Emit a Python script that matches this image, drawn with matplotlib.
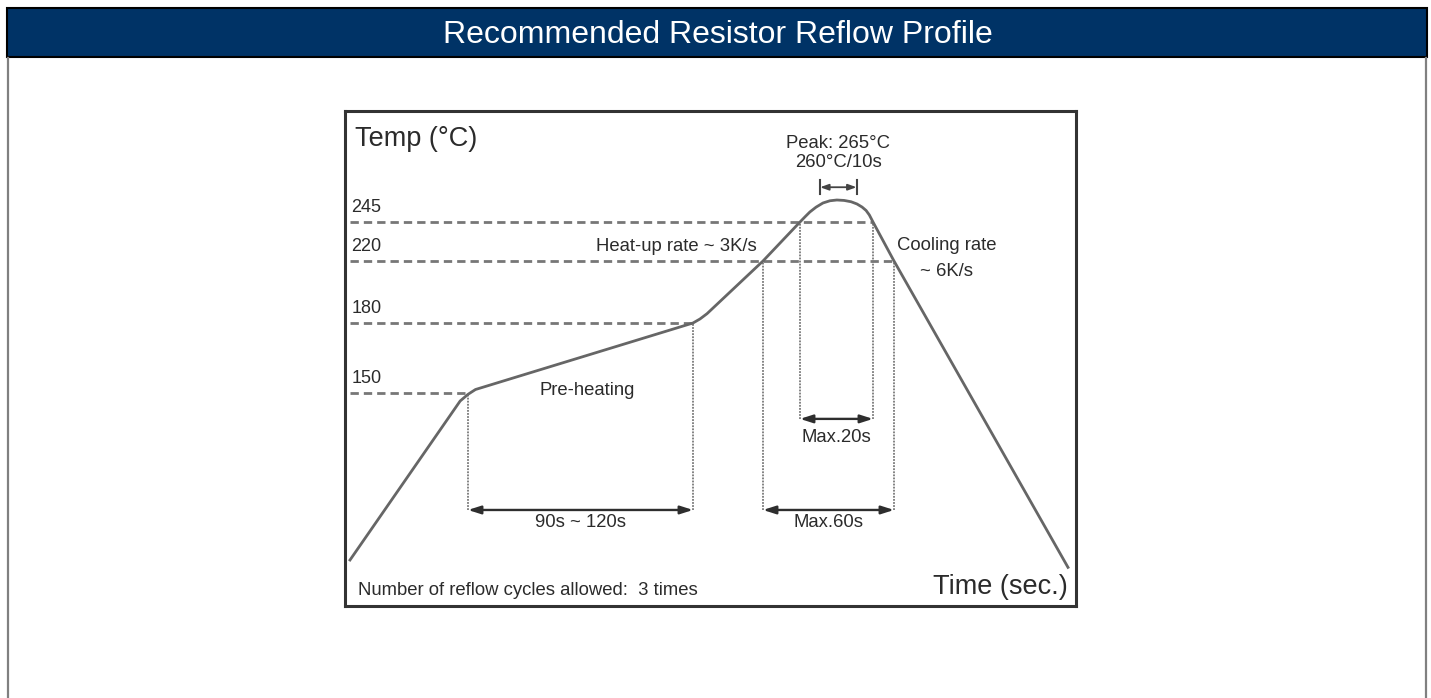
import numpy as np
import matplotlib
matplotlib.use("Agg")
import matplotlib.pyplot as plt
from matplotlib.patches import Rectangle
from matplotlib.lines import Line2D

plt.rcParams['font.family'] = ['Liberation Sans', 'DejaVu Sans']

# reflow profile: time (s) vs temperature (degC)
profile_time = [0, 56, 60, 64, 180, 182, 184, 200, 215, 216.4, 217.7, 219.4, 221.3, 223.2, 225.1,
                227.1, 229, 230.6, 232, 233.1, 234, 235, 260, 290]
profile_temp = [25, 144, 149, 151.5, 180, 182.6, 186, 220, 245, 249.8, 254.1, 258.5, 262.3, 264.3, 265,
                264.6, 263.4, 261.4, 258.6, 255.5, 251.4, 245, 220, 21]

# marked temperature levels and the time where each meets the profile
level_temps = [150, 180, 220, 245]
level_ends = [60, 180, 260, 235]

# time windows
span_starts = [60, 200, 215]
span_ends = [180, 260, 235]
span_labels = ["90s ~ 120s", "Max.60s", "Max.20s"]
peak_hold = [220.5, 230.5]
peak_temp = 265

title = "Recommended Resistor Reflow Profile"
ink = "#2b2b2b"
curve_col = "#666666"
dash_col = "#777777"
fs = 13.3


def piecewise(vals, pos):
    # schematic axis: linear between anchor points
    vals = np.asarray(vals, float)
    pos = np.asarray(pos, float)
    def fwd(v):
        return np.interp(v, vals, pos)
    def inv(p):
        return np.interp(p, pos, vals)
    return fwd, inv


xfwd, xinv = piecewise([-2, 0, 60, 180, 200, 215, 235, 260, 290, 292],
                       [345, 350, 468, 693, 763, 800, 873, 894, 1068, 1076])
yfwd, yinv = piecewise([0, 25, 150, 180, 220, 245, 265, 300],
                       [-606, -560, -393, -323, -261, -222, -200, -111])


def frac_to_temp(f):
    lo, hi = yfwd(0), yfwd(300)
    return float(yinv(lo + f * (hi - lo)))


def mid_time(a, b):
    return float(xinv((xfwd(a) + xfwd(b)) / 2))


W, H = 1431, 698
fig = plt.figure(figsize=(W / 100, H / 100), dpi=100)

# header bar and page frame
fig.patches.append(Rectangle((7 / W, 1 - 57 / H), 1420 / W, 49 / H, transform=fig.transFigure,
                             facecolor="#003366", edgecolor="black", lw=1.5, zorder=0))
fig.lines.append(Line2D([8 / W, 8 / W], [0, 1 - 58 / H], transform=fig.transFigure, color="#808080", lw=1.6))
fig.lines.append(Line2D([1426 / W, 1426 / W], [0, 1 - 58 / H], transform=fig.transFigure, color="#808080", lw=1.6))
fig.text(718 / W, 1 - 35 / H, title, color="white", fontsize=23, ha="center", va="center")

ax = fig.add_axes([345 / W, 1 - 606 / H, 731 / W, 495 / H])
ax.set_xscale("function", functions=(xfwd, xinv))
ax.set_yscale("function", functions=(yfwd, yinv))
ax.set_xlim(-2, 292)
ax.set_ylim(0, 300)
ax.set_xticks([])
ax.set_yticks([])
ax.minorticks_off()
for sp in ax.spines.values():
    sp.set_color("#333333")
    sp.set_linewidth(2.2)

# dashed temperature levels with their labels
for t, end in zip(level_temps, level_ends):
    ax.plot([0, end], [t, t], color=dash_col, lw=2, dashes=(3, 1.8), zorder=2)
    ax.annotate(str(t), xy=(0.009, t), xycoords=ax.get_yaxis_transform(),
                xytext=(0, 10.5), textcoords="offset points",
                ha="left", va="center", fontsize=13, color=ink)

# the profile
ax.plot(profile_time, profile_temp, color=curve_col, lw=2, solid_joinstyle="round", zorder=3)

# dotted drop lines and dimension arrows
arrow_y = [0.194, 0.194, 0.378]
label_y = [0.168, 0.168, 0.341]
prof_at = dict(zip(profile_time, profile_temp))
for a, b, lab, fy, ly in zip(span_starts, span_ends, span_labels, arrow_y, label_y):
    bottom = frac_to_temp(fy)
    for x in (a, b):
        ax.vlines(x, bottom, prof_at[x], color="#7a7a7a", lw=1.3, linestyles=(0, (1, 0.7)), zorder=1)
    ax.annotate("", xy=(b, fy), xytext=(a, fy), xycoords=ax.get_xaxis_transform(),
                arrowprops=dict(arrowstyle="<|-|>,head_length=0.75,head_width=0.24",
                                color="#2e2e2e", lw=1.7, shrinkA=0, shrinkB=0))
    ax.text(mid_time(a, b), ly, lab, transform=ax.get_xaxis_transform(),
            ha="center", va="center", fontsize=fs, color=ink)

# hold time near the peak
xt = ax.get_xaxis_transform()
ax.annotate("", xy=(peak_hold[1], 0.846), xytext=(peak_hold[0], 0.846), xycoords=xt,
            arrowprops=dict(arrowstyle="<|-|>,head_length=0.5,head_width=0.18",
                            color="#444444", lw=1.3, shrinkA=0, shrinkB=0))
for x in peak_hold:
    ax.plot([x, x], [0.832, 0.861], transform=xt, color="#444444", lw=1.5)
pk = mid_time(*peak_hold)
ax.text(pk, 0.935, f"Peak: {peak_temp}°C", transform=xt, ha="center", va="center", fontsize=fs, color=ink)
ax.text(pk, 0.895, "260°C/10s", transform=xt, ha="center", va="center", fontsize=fs, color=ink)

# other notes
ax.text(0.0137, 0.943, "Temp (°C)", transform=ax.transAxes, ha="left", va="center", fontsize=19.5, color=ink)
ax.text(0.989, 0.038, "Time (sec.)", transform=ax.transAxes, ha="right", va="center", fontsize=19.5, color=ink)
ax.text(0.453, 0.727, "Heat-up rate ~ 3K/s", transform=ax.transAxes, ha="center", va="center", fontsize=fs, color=ink)
ax.text(0.755, 0.729, "Cooling rate", transform=ax.transAxes, ha="left", va="center", fontsize=fs, color=ink)
ax.text(0.787, 0.675, "~ 6K/s", transform=ax.transAxes, ha="left", va="center", fontsize=fs, color=ink)
ax.text(0.331, 0.436, "Pre-heating", transform=ax.transAxes, ha="center", va="center", fontsize=fs, color=ink)
ax.text(0.018, 0.032, "Number of reflow cycles allowed:  3 times", transform=ax.transAxes,
        ha="left", va="center", fontsize=fs, color=ink)

fig.savefig("out.png", dpi=100)
